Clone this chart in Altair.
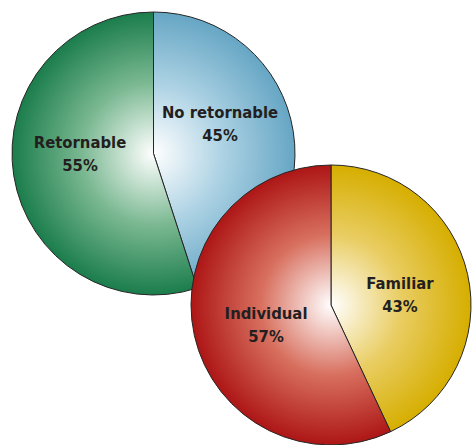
import math
import altair as alt
import pandas as pd

# ---- data ----
pie1_labels = ["No retornable", "Retornable"]
pie1_values = [45, 55]
pie2_labels = ["Familiar", "Individual"]
pie2_values = [43, 57]

rows = []
for pie, labels, values in (("envase", pie1_labels, pie1_values),
                            ("tamano", pie2_labels, pie2_values)):
    for i, (lab, val) in enumerate(zip(labels, values)):
        rows.append({"pie": pie, "label": lab, "value": val, "order": i})
df = pd.DataFrame(rows)

# ---- layout / style ----
PIES = {
    "envase": dict(cx=153.5, cy=153.5, r=141.5),
    "tamano": dict(cx=331.0, cy=305.0, r=140.0),
}
LINE_H = 23
STYLE = {
    "No retornable": dict(edge="#66a6c4", mid="#abd1e3", nudge=(-4.6, -17.5)),
    "Retornable": dict(edge="#1b7d4c", mid="#7cb993", nudge=(-2.4, -10.1)),
    "Familiar": dict(edge="#d6ae00", mid="#e9cd63", nudge=(-1.3, 5.9)),
    "Individual": dict(edge="#ad1616", mid="#d8705f", nudge=(5.3, 4.5)),
}
FONT = "DejaVu Sans Condensed"
LABEL_R = 72

theta_scale = alt.Scale(domain=[0, 100], range=[0, 2 * math.pi])


def slice_gradient(cx, cy, r, a0, a1, mid, edge):
    pts = [(cx, cy)]
    angs = [a0, a1] + [k * 90 for k in range(5) if a0 < k * 90 < a1]
    for a in angs:
        t = math.radians(a)
        pts.append((cx + r * math.sin(t), cy - r * math.cos(t)))
    xs = [p[0] for p in pts]
    ys = [p[1] for p in pts]
    x0, x1, y0, y1 = min(xs), max(xs), min(ys), max(ys)
    s = max(x1 - x0, y1 - y0)
    bx, by = (x0 + x1) / 2, (y0 + y1) / 2
    u = (cx - bx) / s + 0.5
    v = (cy - by) / s + 0.5
    return {
        "gradient": "radial",
        "x1": u, "y1": v, "r1": 0,
        "x2": u, "y2": v, "r2": r / s,
        "stops": [
            {"offset": 0, "color": "#ffffff"},
            {"offset": 0.5, "color": mid},
            {"offset": 1, "color": edge},
        ],
    }


base = (
    alt.Chart(df)
    .transform_window(cum="sum(value)", sort=[alt.SortField("order")],
                      groupby=["pie"], frame=[None, 0])
    .transform_calculate(start="datum.cum - datum.value",
                         mid="datum.cum - datum.value / 2",
                         txt="datum.label + '\\n' + datum.value + '%'")
)

layers = []
for pie, labels, values in (("envase", pie1_labels, pie1_values),
                            ("tamano", pie2_labels, pie2_values)):
    g = PIES[pie]
    total = sum(values)
    acc = 0
    texts = []
    for lab, val in zip(labels, values):
        a0 = acc / total * 360
        acc += val
        a1 = acc / total * 360
        st = STYLE[lab]
        grad = slice_gradient(g["cx"], g["cy"], g["r"], a0, a1, st["mid"], st["edge"])
        sub = base.transform_filter(alt.datum.label == lab)
        layers.append(
            sub.mark_arc(radius=g["r"], fill=grad, stroke="#262626", strokeWidth=1)
            .encode(theta=alt.Theta("start:Q", scale=theta_scale, stack=False),
                    theta2="cum:Q",
                    x=alt.value(g["cx"]), y=alt.value(g["cy"]))
        )
        texts.append(
            sub.mark_text(font=FONT, fontSize=16.5, fontWeight="bold", color="#231f20",
                          lineBreak="\n", lineHeight=LINE_H, align="center",
                          baseline="middle", dx=st["nudge"][0],
                          dy=st["nudge"][1] - LINE_H / 2)
            .encode(theta=alt.Theta("mid:Q", scale=theta_scale, stack=False),
                    radius=alt.value(LABEL_R),
                    x=alt.value(g["cx"]), y=alt.value(g["cy"]),
                    text="txt:N")
        )
    layers.extend(texts)

chart = (
    alt.layer(*layers)
    .properties(width=472, height=445, padding=0, autosize="none")
    .configure_view(stroke=None)
)

chart.save("out.html", embed_options={"renderer": "svg", "actions": False})
